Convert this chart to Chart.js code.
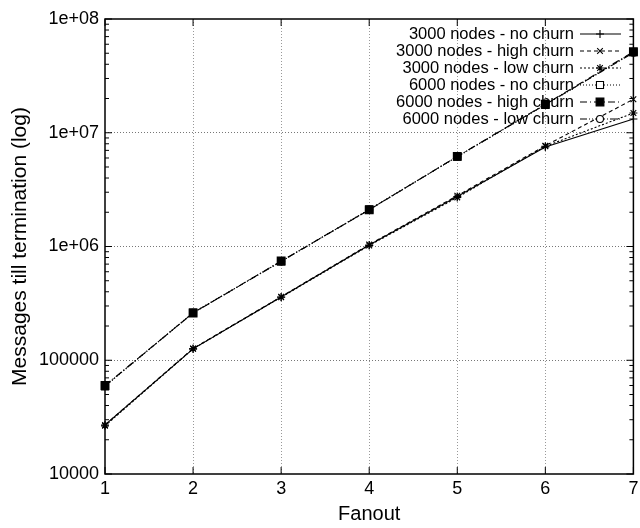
<!DOCTYPE html>
<html>
<head>
<meta charset="utf-8">
<script src="https://cdn.jsdelivr.net/npm/chart.js@4.4.1/dist/chart.umd.min.js"></script>
<style>
  html, body { margin: 0; padding: 0; background: #fff; }
  canvas { display: block; }
</style>
</head>
<body>
<canvas id="chart" width="640" height="528" style="width:640px;height:528px"></canvas>
<script>
// 値は図から読み取り
const fanout = [1, 2, 3, 4, 5, 6, 7];
const yTicks = [10000, 100000, 1000000, 10000000, 100000000];
const yTickLabels = ['10000', '100000', '1e+06', '1e+07', '1e+08'];

const nodes3000NoChurn   = [27000, 126000, 360000, 1030000, 2750000, 7500000, 13200000];
const nodes3000HighChurn = [27000, 127000, 362000, 1040000, 2800000, 7700000, 19700000];
const nodes3000LowChurn  = [26500, 126000, 358000, 1020000, 2700000, 7600000, 14900000];
const nodes6000NoChurn   = [59000, 262000, 740000, 2120000, 6150000, 17600000, 51000000];
const nodes6000HighChurn = [60000, 260000, 745000, 2100000, 6200000, 17800000, 51500000];
const nodes6000LowChurn  = [59500, 261000, 738000, 2110000, 6180000, 17700000, 50500000];

const FONT = '"Liberation Sans", Arial, Helvetica, sans-serif';

function pts(values) {
  return fanout.map((x, i) => ({ x: x, y: values[i] }));
}

function series(label, values, dash, style, radius, fill, order) {
  return {
    label: label,
    data: pts(values),
    borderColor: '#000',
    borderWidth: 1.1,
    borderDash: dash,
    pointStyle: style,
    pointRadius: radius,
    pointBorderWidth: 1.1,
    pointBorderColor: '#000',
    pointBackgroundColor: fill,
    tension: 0,
    fill: false,
    order: order
  };
}

// 枠と内向きの目盛り（gnuplot風）
const framePlugin = {
  id: 'frame',
  afterDraw(chart) {
    const ctx = chart.ctx;
    const a = chart.chartArea;
    const ys = chart.scales.y;
    const xs = chart.scales.x;
    ctx.save();
    ctx.strokeStyle = '#000';
    ctx.lineWidth = 1.5;
    ctx.strokeRect(a.left, a.top, a.right - a.left, a.bottom - a.top);
    ctx.lineWidth = 1;
    ctx.beginPath();
    yTicks.forEach((v, i) => {
      const y = ys.getPixelForValue(v);
      ctx.moveTo(a.left, y); ctx.lineTo(a.left + 7, y);
      ctx.moveTo(a.right, y); ctx.lineTo(a.right - 7, y);
      if (i < yTicks.length - 1) {
        for (let m = 2; m <= 9; m++) {
          const ym = ys.getPixelForValue(v * m);
          ctx.moveTo(a.left, ym); ctx.lineTo(a.left + 4, ym);
          ctx.moveTo(a.right, ym); ctx.lineTo(a.right - 4, ym);
        }
      }
    });
    fanout.forEach(v => {
      const x = xs.getPixelForValue(v);
      ctx.moveTo(x, a.bottom); ctx.lineTo(x, a.bottom - 7);
      ctx.moveTo(x, a.top); ctx.lineTo(x, a.top + 7);
    });
    ctx.stroke();
    ctx.restore();
  }
};

// 凡例: テキストの後に線とマーカー
const legendPlugin = {
  id: 'gnuLegend',
  afterDraw(chart) {
    const ctx = chart.ctx;
    chart.data.datasets.forEach((ds, i) => {
      const y = 34 + 17 * i;
      ctx.save();
      ctx.font = '16.5px ' + FONT;
      ctx.fillStyle = '#000';
      ctx.textAlign = 'right';
      ctx.textBaseline = 'middle';
      ctx.fillText(ds.label, 574, y);
      ctx.strokeStyle = '#000';
      ctx.lineWidth = ds.borderWidth;
      ctx.setLineDash(ds.borderDash);
      ctx.beginPath();
      ctx.moveTo(580, y);
      ctx.lineTo(621, y);
      ctx.stroke();
      ctx.setLineDash([]);
      ctx.fillStyle = ds.pointBackgroundColor;
      Chart.helpers.drawPoint(ctx, {
        pointStyle: ds.pointStyle,
        radius: ds.pointRadius,
        borderWidth: ds.pointBorderWidth,
        rotation: 0
      }, 600, y);
      ctx.restore();
    });
  }
};

let ctx = document.getElementById('chart').getContext('2d');
let chart = new Chart(ctx, {
  type: 'line',
  data: {
    datasets: [
      series('3000 nodes - no churn', nodes3000NoChurn, [], 'cross', 4, '#000', 0),
      series('3000 nodes - high churn', nodes3000HighChurn, [4, 3], 'crossRot', 4, '#000', 1),
      series('3000 nodes - low churn', nodes3000LowChurn, [2, 2], 'star', 4, '#000', 2),
      series('6000 nodes - no churn', nodes6000NoChurn, [1, 2], 'rect', 5, '#fff', 3),
      series('6000 nodes - high churn', nodes6000HighChurn, [7, 3, 1, 3], 'rect', 5.5, '#000', -1),
      series('6000 nodes - low churn', nodes6000LowChurn, [7, 2, 1, 2, 1, 2], 'circle', 3.5, '#fff', 5)
    ]
  },
  options: {
    responsive: false,
    animation: false,
    events: [],
    layout: { padding: { top: 19, right: 2, left: 0, bottom: 0 } },
    datasets: { line: { clip: false } },
    plugins: {
      legend: { display: false },
      tooltip: { enabled: false }
    },
    scales: {
      x: {
        type: 'linear',
        min: 1,
        max: 7,
        afterBuildTicks: s => { s.ticks = fanout.map(v => ({ value: v })); },
        afterFit: s => { s.height = 54; s.paddingLeft = 0; s.paddingRight = 0; },
        ticks: {
          callback: v => String(v),
          font: { family: FONT, size: 18 },
          color: '#000',
          padding: 4,
          maxRotation: 0,
          autoSkip: false
        },
        grid: {
          drawTicks: false,
          lineWidth: 1,
          color: c => (c.index === 0 || c.index === fanout.length - 1) ? 'rgba(0,0,0,0)' : '#999'
        },
        border: { display: false, dash: [1, 2] },
        title: {
          display: true,
          text: 'Fanout',
          font: { family: FONT, size: 20 },
          color: '#000',
          padding: { top: 0, bottom: 2 }
        }
      },
      y: {
        type: 'logarithmic',
        min: 10000,
        max: 100000000,
        afterBuildTicks: s => { s.ticks = yTicks.map(v => ({ value: v })); },
        afterFit: s => { s.width = 105; s.paddingTop = 0; s.paddingBottom = 0; },
        ticks: {
          callback: v => {
            const i = yTicks.indexOf(v);
            return i >= 0 ? yTickLabels[i] : '';
          },
          font: { family: FONT, size: 18 },
          color: '#000',
          padding: 6
        },
        grid: {
          drawTicks: false,
          lineWidth: 1,
          color: c => (c.index === 0 || c.index === yTicks.length - 1) ? 'rgba(0,0,0,0)' : '#777'
        },
        border: { display: false, dash: [1, 2] },
        title: {
          display: true,
          text: 'Messages till termination (log)',
          font: { family: FONT, size: 21 },
          color: '#000',
          padding: { top: 8, bottom: 0 }
        }
      }
    }
  },
  plugins: [framePlugin, legendPlugin]
});
</script>
</body>
</html>
